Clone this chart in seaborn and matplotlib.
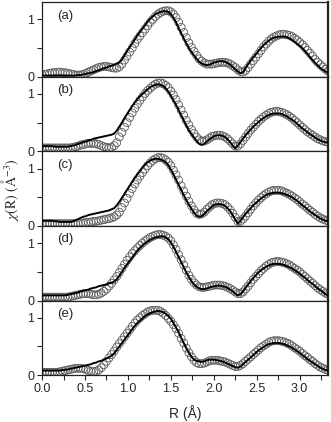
import numpy as np
import pandas as pd
import matplotlib
matplotlib.use("Agg")
import matplotlib.pyplot as plt
import seaborn as sns
from matplotlib.ticker import MultipleLocator

# R grid (Angstrom), 0.03 step
r = np.round(np.arange(112) * 0.03, 2)

panel_labels = ["(a)", "(b)", "(c)", "(d)", "(e)"]

data_a = [.03, .04, .05, .06, .07, .07, .08, .08, .07, .07,
          .06, .05, .04, .03, .03, .03, .04, .06, .08, .10,
          .12, .14, .16, .17, .18, .18, .17, .16, .15, .15,
          .17, .22, .29, .36, .43, .50, .58, .65, .71, .77,
          .83, .89, .95, 1.00, 1.05, 1.09, 1.12, 1.14, 1.15, 1.15,
          1.13, 1.09, 1.03, .95, .86, .77, .68, .59, .51, .44,
          .37, .31, .27, .24, .22, .22, .22, .23, .24, .25,
          .25, .25, .24, .22, .19, .16, .12, .09, .08, .11,
          .16, .22, .28, .34, .40, .46, .52, .57, .62, .66,
          .69, .71, .73, .74, .74, .73, .72, .70, .67, .64,
          .60, .56, .51, .46, .41, .36, .30, .25, .21, .17,
          .13, .10]
fit_a = [.02, .02, .02, .02, .02, .02, .02, .02, .02, .02,
         .02, .02, .02, .02, .03, .03, .04, .05, .06, .07,
         .08, .10, .11, .13, .15, .16, .18, .19, .21, .23,
         .25, .30, .37, .45, .51, .58, .65, .72, .78, .84,
         .90, .96, 1.01, 1.05, 1.09, 1.11, 1.13, 1.14, 1.14, 1.13,
         1.09, 1.03, .95, .85, .76, .67, .58, .50, .43, .37,
         .31, .26, .23, .21, .20, .21, .23, .25, .26, .27,
         .27, .26, .24, .21, .17, .13, .09, .06, .08, .15,
         .22, .28, .34, .39, .45, .50, .55, .59, .63, .66,
         .68, .69, .70, .70, .70, .69, .67, .64, .61, .57,
         .54, .50, .45, .40, .34, .29, .24, .20, .15, .12,
         .09, .07]

data_b = [.06, .06, .06, .06, .06, .06, .06, .06, .06, .06,
          .06, .06, .07, .08, .09, .11, .12, .13, .14, .14,
          .14, .13, .12, .10, .08, .07, .06, .07, .10, .15,
          .25, .33, .42, .50, .59, .67, .75, .82, .89, .95,
          1.01, 1.06, 1.10, 1.14, 1.17, 1.19, 1.19, 1.18, 1.15, 1.11,
          1.05, .98, .90, .81, .72, .63, .54, .46, .38, .31,
          .25, .20, .18, .18, .20, .23, .26, .27, .28, .28,
          .27, .25, .22, .18, .13, .09, .09, .13, .19, .25,
          .31, .37, .42, .47, .52, .56, .60, .63, .66, .68,
          .69, .70, .69, .68, .66, .64, .61, .58, .54, .50,
          .46, .42, .38, .34, .31, .28, .25, .22, .20, .18,
          .17, .16]
fit_b = [.09, .09, .09, .09, .09, .08, .08, .08, .08, .08,
         .08, .09, .10, .11, .13, .14, .16, .17, .19, .20,
         .22, .23, .24, .25, .26, .27, .28, .29, .31, .36,
         .43, .50, .58, .65, .72, .79, .85, .91, .96, 1.00,
         1.04, 1.08, 1.12, 1.14, 1.16, 1.17, 1.16, 1.14, 1.10, 1.04,
         .97, .89, .81, .72, .63, .54, .45, .37, .30, .24,
         .18, .13, .11, .13, .17, .21, .24, .27, .28, .28,
         .27, .25, .21, .16, .10, .05, .10, .16, .22, .28,
         .33, .38, .43, .47, .51, .55, .58, .61, .63, .65,
         .66, .66, .66, .65, .63, .61, .58, .55, .52, .48,
         .44, .40, .37, .33, .30, .27, .24, .21, .19, .17,
         .16, .15]

data_c = [.04, .04, .04, .04, .04, .04, .04, .04, .04, .04,
          .04, .04, .04, .04, .04, .05, .05, .06, .06, .07,
          .08, .08, .09, .10, .11, .12, .13, .14, .16, .19,
          .24, .32, .40, .48, .57, .65, .73, .80, .87, .93,
          .99, 1.05, 1.10, 1.14, 1.17, 1.19, 1.19, 1.18, 1.15, 1.11,
          1.05, .97, .89, .80, .70, .61, .52, .43, .35, .28,
          .22, .20, .21, .24, .29, .33, .37, .39, .40, .40,
          .39, .37, .33, .28, .22, .15, .08, .08, .12, .17,
          .23, .29, .35, .40, .45, .49, .53, .56, .59, .61,
          .62, .62, .62, .61, .59, .57, .55, .52, .49, .46,
          .42, .38, .35, .31, .27, .24, .20, .17, .14, .12,
          .10, .09]
fit_c = [.09, .09, .09, .09, .09, .08, .08, .07, .07, .07,
         .07, .07, .08, .10, .12, .14, .16, .17, .19, .20,
         .21, .22, .23, .24, .25, .26, .27, .29, .31, .36,
         .42, .49, .56, .63, .70, .77, .84, .90, .96, 1.02,
         1.07, 1.11, 1.14, 1.16, 1.17, 1.17, 1.16, 1.14, 1.11, 1.06,
         .98, .90, .81, .72, .63, .54, .45, .37, .30, .23,
         .18, .16, .17, .21, .26, .30, .34, .37, .38, .38,
         .37, .35, .31, .26, .19, .11, .04, .09, .15, .21,
         .26, .31, .36, .40, .44, .48, .51, .54, .56, .57,
         .58, .58, .58, .57, .56, .54, .52, .50, .47, .44,
         .40, .36, .33, .29, .25, .22, .19, .16, .13, .11,
         .09, .08]

data_d = [.06, .06, .06, .06, .06, .06, .06, .06, .06, .06,
          .06, .07, .08, .09, .10, .11, .12, .12, .12, .11,
          .10, .10, .11, .13, .16, .20, .25, .30, .36, .42,
          .49, .56, .63, .70, .76, .82, .87, .92, .96, 1.00,
          1.04, 1.07, 1.10, 1.12, 1.14, 1.15, 1.15, 1.14, 1.12, 1.09,
          1.04, .97, .89, .80, .71, .62, .53, .44, .37, .31,
          .27, .24, .23, .23, .24, .25, .26, .27, .27, .27,
          .26, .25, .23, .21, .18, .15, .12, .12, .15, .20,
          .25, .31, .37, .42, .47, .52, .56, .60, .63, .66,
          .67, .68, .68, .67, .66, .64, .62, .59, .56, .53,
          .50, .46, .42, .38, .34, .30, .26, .22, .19, .16,
          .13, .11]
fit_d = [.09, .09, .09, .09, .09, .09, .09, .09, .09, .09,
         .10, .11, .12, .13, .14, .16, .17, .18, .19, .21,
         .22, .23, .25, .26, .27, .28, .30, .31, .33, .37,
         .43, .50, .57, .63, .69, .75, .81, .87, .92, .96,
         1.00, 1.03, 1.06, 1.08, 1.10, 1.11, 1.12, 1.12, 1.10, 1.07,
         1.01, .94, .85, .76, .67, .58, .49, .41, .34, .28,
         .24, .21, .20, .20, .21, .23, .24, .25, .26, .26,
         .25, .24, .22, .19, .16, .12, .09, .11, .16, .22,
         .28, .34, .39, .44, .49, .53, .56, .59, .61, .63,
         .64, .64, .64, .63, .62, .60, .58, .56, .53, .50,
         .47, .43, .40, .36, .32, .29, .25, .21, .18, .15,
         .11, .09]

data_e = [.05, .05, .05, .05, .05, .05, .05, .06, .07, .08,
          .09, .10, .11, .12, .12, .12, .11, .10, .08, .07,
          .06, .07, .09, .13, .18, .24, .30, .36, .42, .49,
          .55, .61, .67, .73, .79, .85, .91, .96, 1.00, 1.04,
          1.07, 1.10, 1.12, 1.13, 1.13, 1.13, 1.11, 1.08, 1.04, .99,
          .94, .88, .81, .73, .64, .56, .47, .39, .32, .26,
          .22, .20, .20, .21, .23, .25, .26, .26, .26, .25,
          .24, .23, .21, .19, .17, .15, .15, .17, .20, .24,
          .28, .32, .36, .40, .44, .48, .51, .54, .57, .59,
          .60, .60, .60, .59, .58, .56, .54, .51, .48, .45,
          .42, .38, .34, .31, .27, .24, .20, .17, .14, .12,
          .10, .09]
fit_e = [.08, .08, .08, .08, .08, .08, .08, .08, .09, .09,
         .10, .11, .12, .13, .14, .15, .16, .17, .18, .19,
         .21, .22, .24, .25, .27, .29, .31, .34, .38, .44,
         .50, .56, .62, .68, .74, .80, .86, .91, .95, .99,
         1.03, 1.06, 1.08, 1.10, 1.11, 1.12, 1.11, 1.10, 1.07, 1.03,
         .98, .91, .83, .75, .65, .56, .47, .39, .32, .27,
         .25, .24, .23, .24, .26, .27, .27, .27, .26, .25,
         .24, .22, .20, .18, .16, .14, .13, .15, .19, .23,
         .27, .31, .35, .39, .43, .46, .49, .52, .54, .55,
         .56, .56, .56, .55, .54, .52, .50, .48, .45, .42,
         .39, .35, .32, .28, .25, .22, .19, .16, .13, .11,
         .09, .08]

data_sets = [data_a, data_b, data_c, data_d, data_e]
fit_sets = [fit_a, fit_b, fit_c, fit_d, fit_e]

sns.set_style("ticks")
plt.rcParams["font.family"] = ["Liberation Sans", "DejaVu Sans"]
plt.rcParams["mathtext.fontset"] = "stix"

fig, axes = plt.subplots(5, 1, sharex=True, figsize=(3.31, 4.22), dpi=100)
fig.subplots_adjust(left=0.127, right=0.991, top=0.995, bottom=0.111, hspace=0)

for ax, lab, dat, fit in zip(axes, panel_labels, data_sets, fit_sets):
    df = pd.DataFrame({"R": r, "data": dat, "fit": fit})
    sns.scatterplot(data=df, x="R", y="data", ax=ax, marker="o", s=32,
                    facecolor="none", edgecolor="#5a5a5a", linewidth=0.6,
                    zorder=2)
    sns.lineplot(data=df, x="R", y="fit", ax=ax, color="black", lw=1.4,
                 zorder=3)
    ax.set_xlim(0, 3.33)
    ax.set_ylim(0, 1.3)
    ax.set_ylabel("")
    ax.set_xlabel("")
    ax.xaxis.set_major_locator(MultipleLocator(0.5))
    ax.xaxis.set_minor_locator(MultipleLocator(0.25))
    ax.yaxis.set_major_locator(MultipleLocator(1))
    ax.yaxis.set_minor_locator(MultipleLocator(0.5))
    ax.tick_params(which="both", direction="out", length=3.5, width=0.8,
                   labelsize=9, pad=2)
    for side in ["top", "right", "left", "bottom"]:
        ax.spines[side].set_visible(True)
        ax.spines[side].set_linewidth(0.9)
        ax.spines[side].set_color("#222222")
    ax.spines["right"].set_linewidth(1.6)
    ax.text(0.052, 0.82, lab, transform=ax.transAxes, fontsize=9.5,
            va="center", ha="left")

axes[-1].xaxis.set_major_formatter(matplotlib.ticker.FormatStrFormatter("%.1f"))
axes[-1].set_xlabel("R (Å)", fontsize=10, labelpad=7)
fig.text(0.03, 0.55, r"$\chi(\mathrm{R})\ (\mathrm{\AA}^{-3})$", rotation=90,
         va="center", ha="center", fontsize=10)

fig.savefig("out.png", dpi=100)
